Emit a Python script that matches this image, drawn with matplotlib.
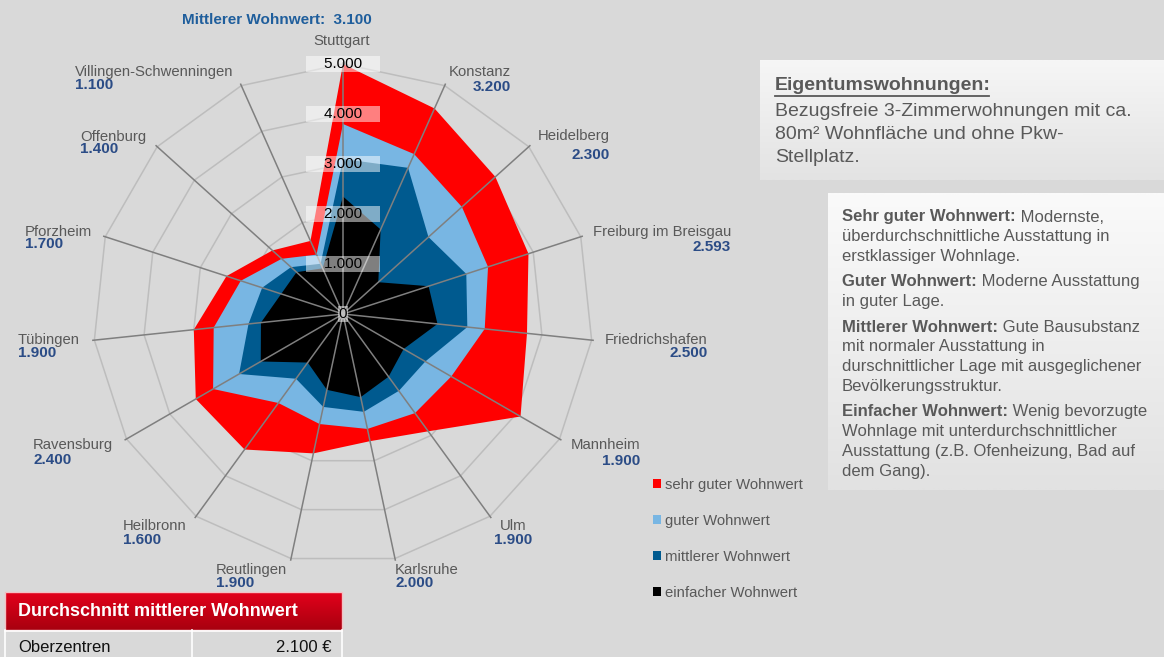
import numpy as np
import matplotlib
matplotlib.use("Agg")
import matplotlib.pyplot as plt
from matplotlib.patches import Rectangle

plt.rcParams["font.family"] = ["Liberation Sans", "DejaVu Sans"]

# ------------------------------
# Data (values in 1.000 EUR/m²)
# ------------------------------
cities = ["Stuttgart", "Konstanz", "Heidelberg", "Freiburg im Breisgau",
          "Friedrichshafen", "Mannheim", "Ulm", "Karlsruhe", "Reutlingen",
          "Heilbronn", "Ravensburg", "Tübingen", "Pforzheim", "Offenburg",
          "Villingen-Schwenningen"]
sehr_gut = [5.0, 4.5, 4.1, 3.9, 3.7, 4.1, 2.9, 2.6, 2.85, 3.35, 3.4, 3.0, 2.45, 1.9, 1.6]
gut      = [3.8, 3.5, 3.2, 3.05, 2.85, 2.5, 2.45, 2.35, 2.25, 2.2, 3.0, 2.6, 2.15, 1.65, 1.3]
mittel   = [3.1, 3.2, 2.3, 2.593, 2.5, 1.9, 1.9, 2.0, 1.9, 1.6, 2.4, 1.9, 1.7, 1.4, 1.1]
einfach  = [2.35, 1.85, 0.95, 1.8, 1.9, 1.4, 1.55, 1.7, 1.55, 1.2, 1.9, 1.65, 1.3, 1.25, 1.0]
ticks = [0, 1, 2, 3, 4, 5]
series_names = ["sehr guter Wohnwert", "guter Wohnwert",
                "mittlerer Wohnwert", "einfacher Wohnwert"]
avg_label = "Oberzentren"
avg_value = "2.100 €"

# ------------------------------
# Styling
# ------------------------------
BG = "#d9d9d9"
COLORS = ["#ff0000", "#78b6e3", "#005a8f", "#000000"]
GRAY_TXT = "#595959"
VAL_BLUE = "#2b4c86"
TITLE_BLUE = "#1f5e9c"

# label anchors in pixels (x, y of name, alignment, value offset)
LABEL_POS = [(342, 41, "center", 0), (511, 72, "right", 15), (610, 136, "right", 19),
             (731, 232, "right", 15), (708, 340, "right", 13), (640, 445, "right", 16),
             (513, 526, "center", 14), (395, 570, "left", 13), (216, 570, "left", 13),
             (123, 526, "left", 14), (33, 445, "left", 15), (18, 340, "left", 13),
             (25, 232, "left", 12), (80, 137, "left", 12), (75, 72, "left", 13)]

W, H = 1164, 657


def fmt(v):
    return f"{v * 1000:,.0f}".replace(",", ".")


fig = plt.figure(figsize=(W / 100, H / 100), dpi=100, facecolor=BG)

# overlay axes in pixel coordinates for boxes and texts
ov = fig.add_axes([0, 0, 1, 1])
ov.set_xlim(0, W)
ov.set_ylim(H, 0)
ov.axis("off")
ov.set_zorder(0)

# ------------------------------
# Radar chart
# ------------------------------
ax = fig.add_axes([93 / W, (H - 564) / H, 500 / W, 500 / H], projection="polar")
ax.set_zorder(1)
ax.set_theta_offset(np.pi / 2)
ax.set_theta_direction(-1)
ax.set_ylim(0, 5)
ax.axis("off")
ax.patch.set_alpha(0)

n = len(cities)
theta = np.linspace(0, 2 * np.pi, n, endpoint=False)
theta_c = np.append(theta, theta[0])

for r in ticks[1:]:
    ax.plot(theta_c, [r] * (n + 1), color="#bdbdbd", lw=1.1, zorder=1, clip_on=False)

handles = []
for vals, col, name, z in zip([sehr_gut, gut, mittel, einfach], COLORS, series_names, [2, 3, 4, 5]):
    p = ax.fill(theta_c, vals + vals[:1], color=col, lw=0, zorder=z, label=name, clip_on=False)
    handles.append(p[0])

for t in theta:
    ax.plot([t, t], [0, 5.03], color="#7f7f7f", lw=1.1, zorder=6, clip_on=False)

for r in ticks:
    lab = fmt(r)
    txt = lab if r == 0 else "    " + lab + "    "
    ax.text(0, r, txt, ha="center", va="center", fontsize=11, color="black", zorder=7,
            bbox=dict(boxstyle="square,pad=0.08", facecolor="white", alpha=0.5, edgecolor="none"))

# city names and mittlerer values
for name, v, (x, y, ha, dy) in zip(cities, mittel, LABEL_POS):
    ov.text(x, y, name, ha=ha, va="center", fontsize=10.7, color=GRAY_TXT)
    if dy:
        ov.text(x, y + dy, fmt(v), ha=ha, va="center", fontsize=11,
                fontweight="bold", color=VAL_BLUE)

t_title = ov.text(182, 20, "Mittlerer Wohnwert:", ha="left", va="center",
                  fontsize=11, fontweight="bold", color=TITLE_BLUE)
ov.annotate("  " + fmt(mittel[0]), xy=(1, 0), xycoords=t_title, ha="left", va="bottom",
            fontsize=11, fontweight="bold", color=TITLE_BLUE)

# legend
fig.legend(handles=handles, labels=series_names, loc="upper left",
           bbox_to_anchor=(653 / W, 1 - 478 / H), frameon=False, fontsize=10.7,
           handlelength=0.55, handleheight=0.55, handletextpad=0.25,
           labelspacing=1.48, labelcolor=GRAY_TXT, borderpad=0, borderaxespad=0)


# ------------------------------
# Text boxes on the right
# ------------------------------
def grad_box(x0, y0, x1, y1, c_top, c_bot):
    g = np.linspace(0, 1, 64)[:, None]
    top = np.array(matplotlib.colors.to_rgb(c_top))
    bot = np.array(matplotlib.colors.to_rgb(c_bot))
    img = top[None, None, :] * (1 - g[..., None]) + bot[None, None, :] * g[..., None]
    ov.imshow(img, extent=(x0, x1, y1, y0), aspect="auto", zorder=1, interpolation="bilinear")


grad_box(760, 60, W, 180, "#f6f6f6", "#e3e3e3")
grad_box(828, 193, W, 490, "#fafafa", "#e2e2e2")

t_head = ov.text(775, 86, "Eigentumswohnungen:", ha="left", va="center", fontsize=14,
                 fontweight="bold", color=GRAY_TXT, zorder=3)
box1_lines = ["Bezugsfreie 3-Zimmerwohnungen mit ca.",
              "80m² Wohnfläche und ohne Pkw-",
              "Stellplatz."]
for i, line in enumerate(box1_lines):
    ov.text(775, 112 + 22.5 * i, line, ha="left", va="center", fontsize=14,
            color=GRAY_TXT, zorder=3)

box2 = [("Sehr guter Wohnwert:", " Modernste,"),
        ("", "überdurchschnittliche Ausstattung in"),
        ("", "erstklassiger Wohnlage."),
        ("Guter Wohnwert:", " Moderne Ausstattung"),
        ("", "in guter Lage."),
        ("Mittlerer Wohnwert:", " Gute Bausubstanz"),
        ("", "mit normaler Ausstattung in"),
        ("", "durschnittlicher Lage mit ausgeglichener"),
        ("", "Bevölkerungsstruktur."),
        ("Einfacher Wohnwert:", " Wenig bevorzugte"),
        ("", "Wohnlage mit unterdurchschnittlicher"),
        ("", "Ausstattung (z.B. Ofenheizung, Bad auf"),
        ("", "dem Gang).")]
y = 217
for i, (b, rest) in enumerate(box2):
    if b and i > 0:
        y += 5.5
    if b:
        tb = ov.text(842, y, b, ha="left", va="center", fontsize=12, fontweight="bold",
                     color=GRAY_TXT, zorder=3)
        ov.annotate(rest, xy=(1, 0), xycoords=tb, ha="left", va="bottom", fontsize=12,
                    color=GRAY_TXT, zorder=3)
    else:
        ov.text(842, y, rest, ha="left", va="center", fontsize=12, color=GRAY_TXT, zorder=3)
    y += 19.8

# ------------------------------
# Table bottom left
# ------------------------------
grad_box(5, 592, 342, 630, "#e3001b", "#a8000f")
ov.add_patch(Rectangle((5, 592), 337, 38, fill=False, edgecolor="#f3c0c4", lw=1, zorder=2))
ov.text(18, 611, "Durchschnitt mittlerer Wohnwert", ha="left", va="center", fontsize=13,
        fontweight="bold", color="white", zorder=3)
ov.plot([5, 342], [630.5, 630.5], color="white", lw=1.2, zorder=2)
ov.plot([5, 5], [630, H], color="white", lw=1.2, zorder=2)
ov.plot([342, 342], [630, H], color="white", lw=1.2, zorder=2)
ov.plot([192, 192], [630, H], color="white", lw=1.2, zorder=2)
ov.text(18, 647, avg_label, ha="left", va="center", fontsize=12, color="#111111", zorder=3)
ov.text(331, 647, avg_value, ha="right", va="center", fontsize=12, color="#111111", zorder=3)

ov.set_xlim(0, W)
ov.set_ylim(H, 0)

# underline of the box heading
fig.canvas.draw()
bb = t_head.get_window_extent()
inv = ov.transData.inverted()
(x0, _), (x1, _) = inv.transform([(bb.x0, bb.y0), (bb.x1, bb.y0)])
ov.plot([x0, x1 - 2], [96, 96], color=GRAY_TXT, lw=1.3, zorder=3)

fig.savefig("out.png", dpi=100, facecolor=BG)
